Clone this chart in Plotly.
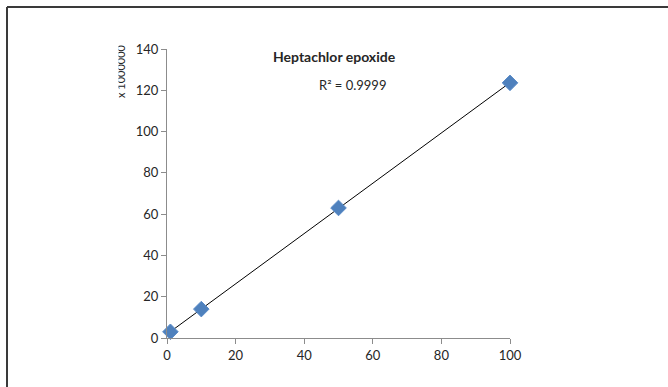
import numpy as np
import plotly.graph_objects as go

# Calibration standard: concentration vs. detector response (x 1000000)
concentration = [1, 10, 50, 100]
response = [3.0, 14.0, 63.0, 123.6]

x_ticks = [0, 20, 40, 60, 80, 100]
y_ticks = [0, 20, 40, 60, 80, 100, 120, 140]

chart_title = "Heptachlor epoxide"
r2_label = "R² = 0.9999"
y_scale_label = "x 1000000"

# Least-squares linear trendline over the measured range
slope, intercept = np.polyfit(concentration, response, 1)
fit_x = [min(concentration), max(concentration)]
fit_y = [slope * v + intercept for v in fit_x]

FONT = "Lato, Open Sans, sans-serif"
AXIS_GRAY = "#8c8c8c"
TEXT = "#262626"

fig = go.Figure()
fig.add_trace(go.Scatter(
    x=fit_x, y=fit_y, mode="lines",
    line=dict(color="#000000", width=1),
    hoverinfo="skip", showlegend=False, cliponaxis=False,
))
fig.add_trace(go.Scatter(
    x=concentration, y=response, mode="markers",
    marker=dict(symbol="diamond", size=12, color="#4F81BD",
                line=dict(color="#5b8cc8", width=1)),
    showlegend=False, cliponaxis=False,
))

# Plot-area geometry in pixels (used to place the outer frame in paper units)
L, R, T, B = 167, 158, 49, 49
W, H = 668, 387
pw, ph = W - L - R, H - T - B


def px_x(p):
    return (p - L) / pw


def px_y(p):
    return 1 - (p - T) / ph


frame_x = px_x(7)
frame_y = px_y(7)

fig.update_layout(
    width=W, height=H,
    margin=dict(l=L, r=R, t=T, b=B),
    paper_bgcolor="white", plot_bgcolor="white",
    font=dict(family=FONT, size=13, color=TEXT),
    xaxis=dict(
        range=[0, 100], tickvals=x_ticks, showgrid=False, zeroline=False,
        showline=True, linecolor=AXIS_GRAY, linewidth=1,
        ticks="outside", ticklen=5, tickcolor=AXIS_GRAY,
        tickfont=dict(family=FONT, size=13, color=TEXT),
    ),
    yaxis=dict(
        range=[0, 140], tickvals=y_ticks, showgrid=False, zeroline=False,
        showline=True, linecolor=AXIS_GRAY, linewidth=1,
        ticks="outside", ticklen=5, tickcolor=AXIS_GRAY,
        tickfont=dict(family=FONT, size=13, color=TEXT),
    ),
    shapes=[
        dict(type="line", xref="paper", yref="paper",
             x0=frame_x, x1=px_x(W + 5), y0=frame_y, y1=frame_y,
             line=dict(color="#3a3a3a", width=2)),
        dict(type="line", xref="paper", yref="paper",
             x0=frame_x, x1=frame_x, y0=frame_y, y1=px_y(H + 5),
             line=dict(color="#3a3a3a", width=2)),
    ],
    annotations=[
        dict(text="<b>" + chart_title + "</b>", xref="paper", yref="paper",
             x=px_x(334), y=px_y(57), xanchor="center", yanchor="middle",
             showarrow=False, font=dict(family=FONT, size=14, color=TEXT)),
        dict(text=r2_label, xref="paper", yref="paper",
             x=px_x(352), y=px_y(85), xanchor="center", yanchor="middle",
             showarrow=False, font=dict(family=FONT, size=13, color=TEXT)),
        dict(text=y_scale_label, xref="paper", yref="paper", textangle=-90,
             x=px_x(120), y=px_y(71), xanchor="center", yanchor="middle",
             showarrow=False, font=dict(family=FONT, size=11, color=TEXT)),
        # white mask trimming the scale label at the chart's edge
        dict(text="&nbsp;", xref="paper", yref="paper",
             xanchor="right", yanchor="middle",
             x=px_x(119), y=px_y(71), showarrow=False,
             width=14, height=70, bgcolor="white", borderpad=0),
    ],
)

fig.write_html("out.html")
